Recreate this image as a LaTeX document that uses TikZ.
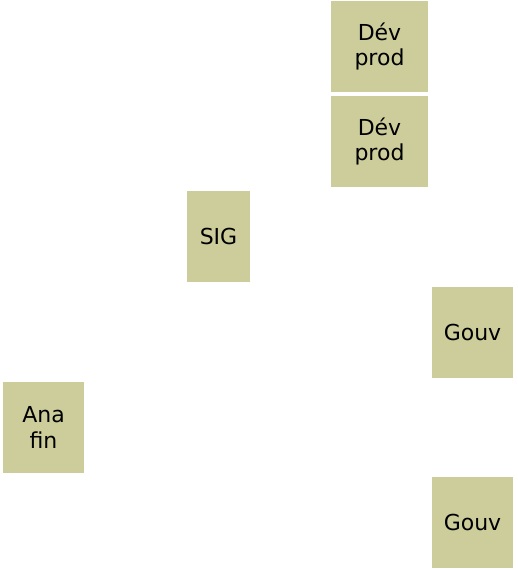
\documentclass[tikz,border=0pt]{standalone}
\usepackage{fontspec}
\setmainfont{DejaVu Sans}
\definecolor{boxfill}{HTML}{CDCD9C}
\definecolor{boxtext}{HTML}{000000}
\begin{document}
\begin{tikzpicture}[x=1pt,y=-1pt,
  tile/.style={fill=boxfill, draw=none, inner sep=0pt, align=center,
    text=boxtext, font=\fontsize{22}{25.5}\selectfont}]
\useasboundingbox (0,0) rectangle (517,570);
\node[tile, minimum width=97pt, minimum height=91pt] (dev1) at (379.5,46.5) {Dév\\prod};
\node[tile, minimum width=97pt, minimum height=91pt] (dev2) at (379.5,141.5) {Dév\\prod};
\node[tile, minimum width=63pt, minimum height=91pt] (sig) at (218.5,236.5) {SIG};
\node[tile, minimum width=81pt, minimum height=91pt] (gouv1) at (472.5,332.5) {Gouv};
\node[tile, minimum width=81pt, minimum height=91pt] (ana) at (43.5,427.5) {Ana\\fin};
\node[tile, minimum width=81pt, minimum height=91pt] (gouv2) at (472.5,522.5) {Gouv};
\end{tikzpicture}
\end{document}
